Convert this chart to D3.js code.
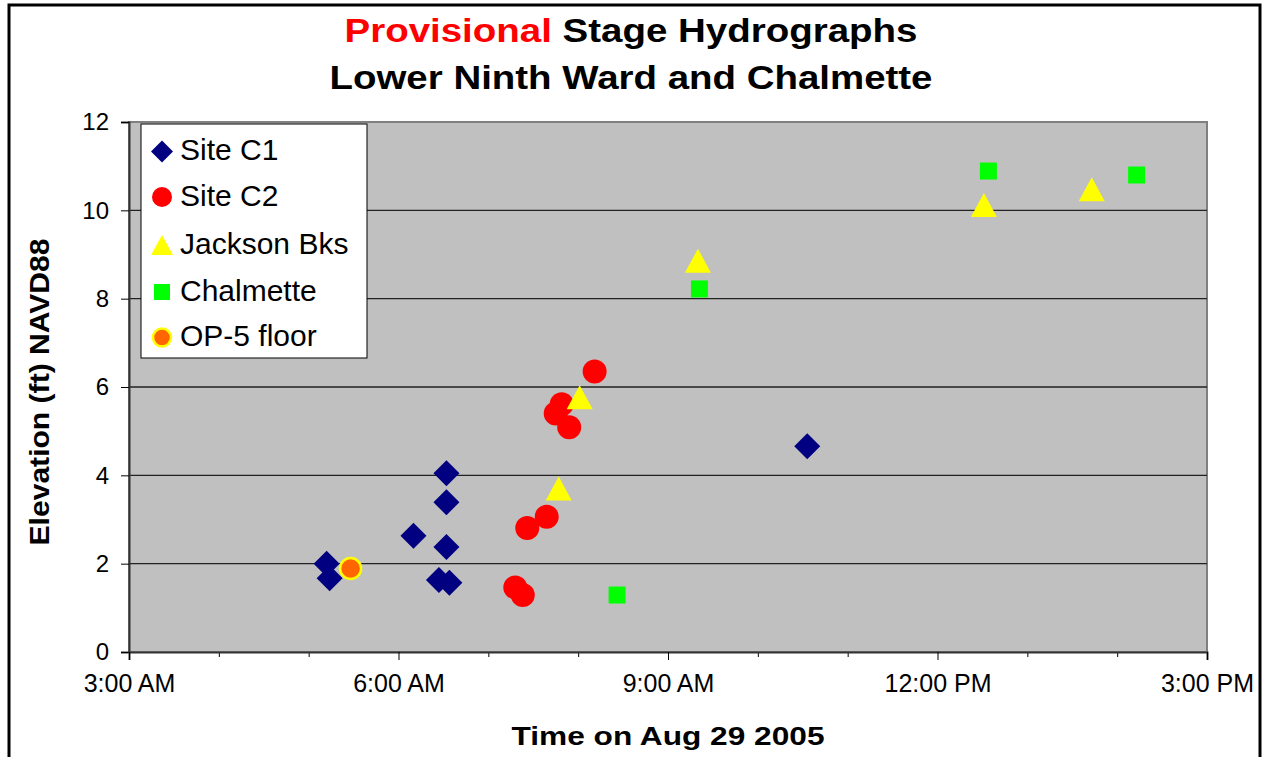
<!DOCTYPE html>
<html>
<head>
<meta charset="utf-8">
<script src="https://cdn.jsdelivr.net/npm/d3@7"></script>
<style>
  html, body { margin: 0; padding: 0; background: #fff; }
  svg { display: block; }
  text { font-family: "Liberation Sans", Arial, sans-serif; }
</style>
</head>
<body>
<svg id="chart" width="1262" height="757"></svg>
<script>
// ---------- data (time on Aug 29 2005, elevation ft NAVD88) ----------
const seriesNames = ["Site C1", "Site C2", "Jackson Bks", "Chalmette", "OP-5 floor"];

const siteC1Times  = ["05:12", "05:14", "06:10", "06:32", "06:32", "06:32", "06:27", "06:34", "10:33"];
const siteC1Values = [2.00, 1.67, 2.63, 4.05, 3.39, 2.38, 1.63, 1.57, 4.66];

const siteC2Times  = ["07:18", "07:23", "07:26", "07:39", "07:45", "07:49", "07:54", "08:11"];
const siteC2Values = [1.46, 1.29, 2.81, 3.06, 5.40, 5.61, 5.09, 6.35];

const jacksonTimes  = ["07:47", "08:01", "09:20", "12:31", "13:43"];
const jacksonValues = [3.70, 5.77, 8.86, 10.12, 10.48];

const chalmetteTimes  = ["08:26", "09:21", "12:34", "14:13"];
const chalmetteValues = [1.29, 8.22, 10.89, 10.80];

const op5Times  = ["05:28"];
const op5Values = [1.89];

const xTickTimes  = ["03:00", "06:00", "09:00", "12:00", "15:00"];
const xTickLabels = ["3:00 AM", "6:00 AM", "9:00 AM", "12:00 PM", "3:00 PM"];
const xMinorTimes = ["04:00", "05:00", "07:00", "08:00", "10:00", "11:00", "13:00", "14:00"];
const yTicks = [0, 2, 4, 6, 8, 10, 12];

// ---------- setup ----------
const parseT = d3.timeParse("%H:%M");
const svg = d3.select("#chart");

const plot = { left: 129, right: 1207, top: 122, bottom: 652 };

const x = d3.scaleTime()
  .domain([parseT("03:00"), parseT("15:00")])
  .range([plot.left, plot.right]);
const y = d3.scaleLinear()
  .domain([0, 12])
  .range([plot.bottom, plot.top]);

// outer frame
svg.append("path")
  .attr("d", "M9,770 L9,5 L1260,5 L1260,770")
  .attr("fill", "none").attr("stroke", "#000").attr("stroke-width", 3);

// plot background
svg.append("rect")
  .attr("x", plot.left).attr("y", plot.top)
  .attr("width", plot.right - plot.left).attr("height", plot.bottom - plot.top)
  .attr("fill", "#c0c0c0").attr("stroke", "#808080").attr("stroke-width", 2);

// gridlines
svg.append("g").selectAll("line")
  .data(yTicks.filter(v => v > 0 && v < 12))
  .join("line")
  .attr("x1", plot.left).attr("x2", plot.right)
  .attr("y1", d => y(d)).attr("y2", d => y(d))
  .attr("stroke", "#222").attr("stroke-width", 1.3);

// y axis
const yAxis = d3.axisLeft(y).tickValues(yTicks).tickSize(8).tickPadding(12)
  .tickFormat(d3.format("d"));
const gy = svg.append("g").attr("transform", `translate(${plot.left},0)`).call(yAxis);
gy.select(".domain").attr("stroke", "#333").attr("stroke-width", 2);
gy.selectAll(".tick line").attr("stroke", "#000").attr("stroke-width", 1);
gy.selectAll(".tick text").attr("font-size", 24).attr("fill", "#000")
  .attr("font-family", "'Liberation Sans', Arial, sans-serif");

// x axis minor ticks
const xMinor = d3.axisBottom(x).tickValues(xMinorTimes.map(parseT)).tickSize(5).tickFormat("");
const gxm = svg.append("g").attr("transform", `translate(0,${plot.bottom})`).call(xMinor);
gxm.select(".domain").remove();
gxm.selectAll(".tick line").attr("stroke", "#000");

// x axis major
const xAxis = d3.axisBottom(x).tickValues(xTickTimes.map(parseT)).tickSize(8).tickPadding(14)
  .tickFormat((d, i) => xTickLabels[i]);
const gx = svg.append("g").attr("transform", `translate(0,${plot.bottom})`).call(xAxis);
gx.select(".domain").attr("stroke", "#333").attr("stroke-width", 2);
gx.selectAll(".tick line").attr("stroke", "#000");
gx.selectAll(".tick text").attr("font-size", 25).attr("fill", "#000")
  .attr("font-family", "'Liberation Sans', Arial, sans-serif");

// ---------- marker shapes ----------
const diamondPath = s => { const p = d3.path(); p.moveTo(0, -s); p.lineTo(s, 0); p.lineTo(0, s); p.lineTo(-s, 0); p.closePath(); return p.toString(); };
const trianglePath = (w, h) => { const p = d3.path(); p.moveTo(0, -h / 2); p.lineTo(w / 2, h / 2); p.lineTo(-w / 2, h / 2); p.closePath(); return p.toString(); };
const squarePath = s => { const p = d3.path(); p.rect(-s / 2, -s / 2, s, s); return p.toString(); };
const circlePath = r => { const p = d3.path(); p.arc(0, 0, r, 0, 2 * Math.PI); p.closePath(); return p.toString(); };

const styles = [
  { path: diamondPath(13), legend: diamondPath(11), fill: "#000080", stroke: "none", sw: 0 },
  { path: circlePath(12), legend: circlePath(10), fill: "#ff0000", stroke: "none", sw: 0 },
  { path: trianglePath(26, 24), legend: trianglePath(22, 20), fill: "#ffff00", stroke: "none", sw: 0 },
  { path: squarePath(17), legend: squarePath(16), fill: "#00ff00", stroke: "none", sw: 0 },
  { path: circlePath(10.5), legend: circlePath(9), fill: "#ff6600", stroke: "#ffff00", sw: 2.5 }
];

const seriesData = [
  [siteC1Times, siteC1Values],
  [siteC2Times, siteC2Values],
  [jacksonTimes, jacksonValues],
  [chalmetteTimes, chalmetteValues],
  [op5Times, op5Values]
];

seriesData.forEach(([times, vals], si) => {
  const st = styles[si];
  svg.append("g").selectAll("path")
    .data(times.map((t, i) => ({ t: parseT(t), v: vals[i] })))
    .join("path")
    .attr("d", st.path)
    .attr("transform", d => `translate(${x(d.t)},${y(d.v)})`)
    .attr("fill", st.fill)
    .attr("stroke", st.stroke)
    .attr("stroke-width", st.sw);
});

// ---------- legend ----------
const lg = svg.append("g");
lg.append("rect").attr("x", 141).attr("y", 124).attr("width", 226).attr("height", 234)
  .attr("fill", "#fff").attr("stroke", "#000").attr("stroke-width", 1);
const legendRowY = [151.5, 197, 245, 292, 337.5];
seriesNames.forEach((name, i) => {
  const st = styles[i];
  lg.append("path").attr("d", st.legend)
    .attr("transform", `translate(162,${legendRowY[i]})`)
    .attr("fill", st.fill).attr("stroke", st.stroke).attr("stroke-width", st.sw);
  lg.append("text").attr("x", 180).attr("y", legendRowY[i] + 8.5)
    .attr("font-size", 30).attr("fill", "#000")
    .text(name);
});

// ---------- titles ----------
const t1 = svg.append("text").attr("x", 631).attr("y", 42).attr("text-anchor", "middle")
  .attr("font-size", 33).attr("font-weight", "bold")
  .attr("textLength", 573).attr("lengthAdjust", "spacingAndGlyphs");
t1.append("tspan").attr("fill", "#ff0000").text("Provisional");
t1.append("tspan").attr("fill", "#000").text(" Stage Hydrographs");

svg.append("text").attr("x", 631).attr("y", 89).attr("text-anchor", "middle")
  .attr("font-size", 33).attr("font-weight", "bold").attr("fill", "#000")
  .attr("textLength", 603).attr("lengthAdjust", "spacingAndGlyphs")
  .text("Lower Ninth Ward and Chalmette");

svg.append("text").attr("x", 668).attr("y", 745).attr("text-anchor", "middle")
  .attr("font-size", 26).attr("font-weight", "bold").attr("fill", "#000")
  .attr("textLength", 313).attr("lengthAdjust", "spacingAndGlyphs")
  .text("Time on Aug 29 2005");

svg.append("text").attr("transform", "translate(49,392) rotate(-90)")
  .attr("text-anchor", "middle")
  .attr("font-size", 27).attr("font-weight", "bold").attr("fill", "#000")
  .attr("textLength", 307).attr("lengthAdjust", "spacingAndGlyphs")
  .text("Elevation (ft) NAVD88");
</script>
</body>
</html>
